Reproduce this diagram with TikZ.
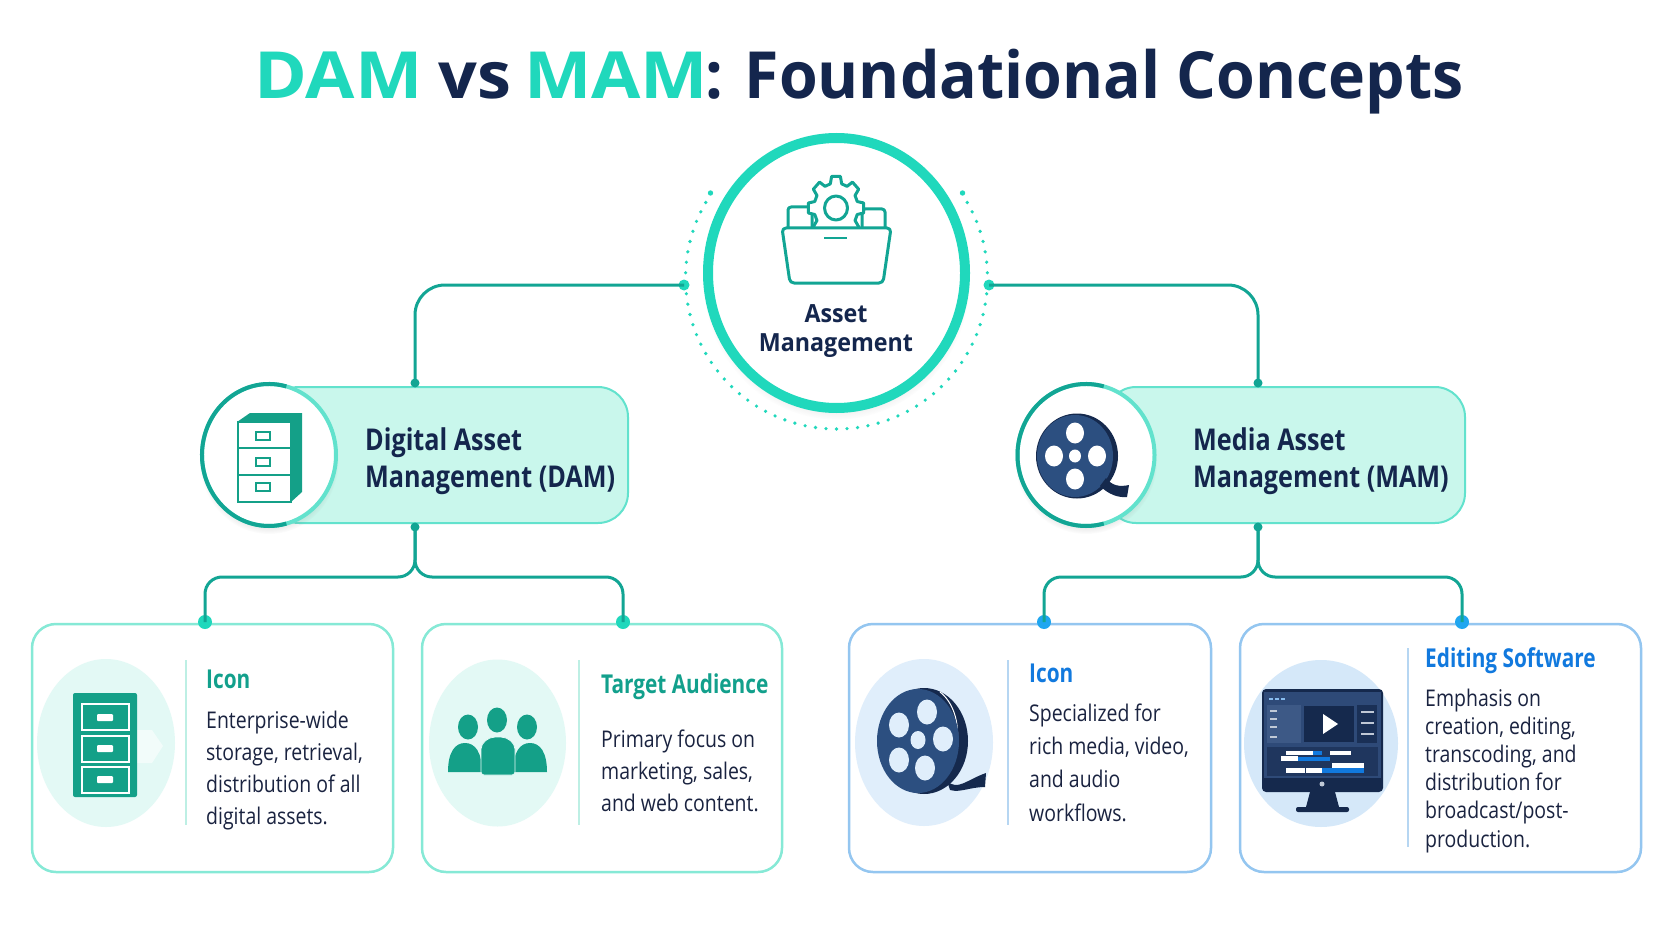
\documentclass[tikz,border=0pt]{standalone}
\usepackage{fontspec}
\setmainfont{Open Sans}
\newfontfamily\titlefont[FakeStretch=.963]{Open Sans}
\newfontfamily\titlewide[FakeStretch=1.1]{Open Sans}
\newfontfamily\titlemid[FakeStretch=1.05]{Open Sans}
\newfontfamily\assetfont[FakeStretch=.93]{Open Sans}
\newfontfamily\pillfont[FakeStretch=.84]{Open Sans}
\newfontfamily\headfont[FakeStretch=.8]{Open Sans}
\newfontfamily\bodyfont[FakeStretch=.846]{Open Sans}
\usetikzlibrary{positioning,shapes.geometric,shadows,calc}

\definecolor{mint}{HTML}{20D8BC}
\definecolor{tealline}{HTML}{12A594}
\definecolor{tealicon}{HTML}{14A088}
\definecolor{mintedge}{HTML}{62E2CD}
\definecolor{mintfill}{HTML}{C9F7EC}
\definecolor{cardmint}{HTML}{86E9D6}
\definecolor{palemint}{HTML}{E3F9F5}
\definecolor{rulemint}{HTML}{BDEFE4}
\definecolor{skydot}{HTML}{1FA6F0}
\definecolor{cardsky}{HTML}{94C6F0}
\definecolor{palesky}{HTML}{E0EEFB}
\definecolor{rulesky}{HTML}{B6D6F2}
\definecolor{headblue}{HTML}{1179DE}
\definecolor{headteal}{HTML}{12A08C}
\definecolor{navy}{HTML}{14264D}
\definecolor{ink}{HTML}{1A2340}
\definecolor{reelblue}{HTML}{2C4F80}
\definecolor{reeldark}{HTML}{15294D}
\definecolor{screenmid}{HTML}{2E4A78}
\definecolor{screenlite}{HTML}{3D5986}

\tikzset{
    linkline/.style={draw=tealline, line width=3pt},
    linkdot/.style={circle, fill=#1, inner sep=0pt, minimum size=14pt},
    smalldot/.style={circle, fill=tealline, inner sep=0pt, minimum size=9pt},
    pillbox/.style={rectangle, rounded corners=30pt, fill=mintfill, draw=mintedge, line width=2pt, minimum height=136pt},
    badge/.style={ellipse, fill=white, draw=mintedge, line width=4pt, inner sep=0pt,
        circular drop shadow={shadow xshift=0pt, shadow yshift=-5pt, shadow scale=1.04, opacity=.25}},
    pilltext/.style={font=\pillfont\bfseries\fontsize{30}{37}\selectfont, text=navy, align=left, inner sep=0pt, anchor=base west},
    titlepart/.style={font=\bfseries\fontsize{65}{70}\selectfont, text=#1, inner sep=0pt, anchor=base west},
    cardbox/.style={rectangle, rounded corners=24pt, fill=white, draw=#1, line width=2.5pt, minimum height=248pt},
    cardhead/.style={font=\headfont\bfseries\fontsize{26}{30}\selectfont, text=#1, inner sep=0pt, anchor=base west},
    cardbody/.style={font=\bodyfont\fontsize{23}{#1}\selectfont, text=ink, align=left, inner sep=0pt, anchor=base west},
    iconline/.style={draw=tealline, line width=3pt, line join=round},
}

\begin{document}
\begin{tikzpicture}[x=1pt, y=-1pt]
    \useasboundingbox (0,0) rectangle (1672,941);
    \fill[white] (0,0) rectangle (1672,941);

    \node[titlepart=mint] (titleA) at (254,99) {\titlewide DAM};
    \node[titlepart=navy] (titleB) at (438,99) {\titlemid vs};
    \node[titlepart=mint] (titleC) at (524,99) {\titlewide MAM};
    \node[titlepart=navy] (titleD) at (705,99) {\titlefont : Foundational Concepts};

    % centre circle with its dotted ring
    \coordinate (ring) at (836.5,278);
    \foreach \a in {150,154,...,390}
        \fill[mint] (ring) ++(\a:151pt) circle[radius=1.8pt];
    \fill[mint] (ring) ++(146:152pt) circle[radius=2.7pt];
    \fill[mint] (ring) ++(34:152pt) circle[radius=2.7pt];
    \node[ellipse, fill=white, draw=mint, line width=10pt, inner sep=0pt, minimum width=257pt, minimum height=270pt,
        circular drop shadow={shadow xshift=0pt, shadow yshift=-6pt, shadow scale=1.04, opacity=.25}] (asset) at (836.5,273) {};

    \draw[iconline, fill=white, rounded corners=3pt] (788,228) -- (788,207) -- (812,207) -- (812,228);
    \draw[iconline, fill=white, rounded corners=3pt] (862,228) -- (862,209) -- (885,209) -- (885,228);
    \draw[iconline, fill=white, shift={(836,208)}] (-15:22 and 25)
        \foreach \a in {0,45,...,315} { -- ({\a-15}:22 and 25) -- ({\a-9}:28 and 32) -- ({\a+9}:28 and 32) -- ({\a+15}:22 and 25) } -- cycle;
    \draw[iconline] (836,208) ellipse[x radius=11.5, y radius=12];
    \draw[iconline, fill=white, rounded corners=4pt] (782,228) -- (891,228) -- (883,283) -- (790,283) -- cycle;
    \draw[iconline, line width=2pt] (824,238) -- (847,238);
    \node[font=\assetfont\bfseries\fontsize{25}{29}\selectfont, text=navy, align=center, inner sep=0pt, anchor=base] (assetname) at (836,351) {Asset\\Management};

    % two main boxes
    \node[pillbox, minimum width=359pt] (dampill) at (448.5,455) {};
    \node[pillbox, minimum width=359pt] (mampill) at (1285.5,455) {};
    \node[badge, minimum width=134pt, minimum height=142pt] (dambadge) at (269,455) {};
    \node[badge, minimum width=137pt, minimum height=142pt] (mambadge) at (1086,455) {};
    \draw[draw=tealline, line width=4pt] (dambadge.center) ++(75:67pt and 71pt) arc[start angle=75, end angle=285, x radius=67pt, y radius=71pt];
    \draw[draw=tealline, line width=4pt] (mambadge.center) ++(75:68.5pt and 71pt) arc[start angle=75, end angle=285, x radius=68.5pt, y radius=71pt];
    \node[pilltext] (damname) at (365,487) {Digital Asset\\Management (DAM)};
    \node[pilltext] (mamname) at (1193,487) {Media Asset\\Management (MAM)};

    % links from the centre
    \node[linkdot=mint, minimum size=11pt] (assetleft) at (684,285) {};
    \node[linkdot=mint, minimum size=11pt] (assetright) at (989,285) {};
    \node[smalldot] (damtop) at (415,383) {};
    \node[smalldot] (mamtop) at (1258,383) {};
    \draw[linkline, rounded corners=30pt] (assetleft.center) -| (damtop.center);
    \draw[linkline, rounded corners=30pt] (assetright.center) -| (mamtop.center);

    % cards
    \node[cardbox=cardmint, minimum width=361pt] (cardA) at (212.5,748) {};
    \node[cardbox=cardmint, minimum width=360pt] (cardB) at (602,748) {};
    \node[cardbox=cardsky, minimum width=362pt] (cardC) at (1030,748) {};
    \node[cardbox=cardsky, minimum width=401pt] (cardD) at (1440.5,748) {};

    \node[ellipse, fill=palemint, inner sep=0pt, minimum width=138pt, minimum height=168pt] (blobA) at (106,743) {};
    \node[ellipse, fill=palemint, inner sep=0pt, minimum width=137pt, minimum height=167pt] (blobB) at (497.5,743) {};
    \node[ellipse, fill=palesky, inner sep=0pt, minimum width=138pt, minimum height=167pt] (blobC) at (924,742.5) {};
    \node[ellipse, fill=palesky!85!cardsky, inner sep=0pt, minimum width=154pt, minimum height=167pt] (blobD) at (1321,743.5) {};

    \draw[rulemint, line width=1.5pt] (186,660) -- (186,825);
    \draw[rulemint, line width=1.5pt] (579,660) -- (579,825);
    \draw[rulesky, line width=1.5pt] (1008,660) -- (1008,825);
    \draw[rulesky, line width=1.5pt] (1408,648) -- (1408,847);

    \node[cardhead=headteal] (headA) at (206,688) {Icon};
    \node[cardhead=headteal] (headB) at (601,693) {Target Audience};
    \node[cardhead=headblue] (headC) at (1029,682) {Icon};
    \node[cardhead=headblue] (headD) at (1425,667) {Editing Software};
    \node[cardbody=32] (bodyA) at (206,824) {Enterprise-wide\\storage, retrieval,\\distribution of all\\digital assets.};
    \node[cardbody=32] (bodyB) at (601,811) {Primary focus on\\marketing, sales,\\and web content.};
    \node[cardbody=33.3] (bodyC) at (1029,821) {Specialized for\\rich media, video,\\and audio\\workflows.};
    \node[cardbody=28.2] (bodyD) at (1425,847) {Emphasis on\\creation, editing,\\transcoding, and\\distribution for\\broadcast/post-\\production.};

    % links down to the cards
    \node[smalldot] (dambot) at (415,527) {};
    \node[smalldot] (mambot) at (1258,527) {};
    \node[linkdot=mint] (dotA) at (205,622) {};
    \node[linkdot=mint] (dotB) at (623,622) {};
    \node[linkdot=skydot] (dotC) at (1044,622) {};
    \node[linkdot=skydot] (dotD) at (1462,622) {};
    \coordinate (damfork) at (415,577);
    \coordinate (mamfork) at (1258,577);
    \draw[linkline, rounded corners=17pt] (dambot.center) -- (damfork) -| (dotA.center);
    \draw[linkline, rounded corners=17pt] (dambot.center) -- (damfork) -| (dotB.center);
    \draw[linkline, rounded corners=17pt] (mambot.center) -- (mamfork) -| (dotC.center);
    \draw[linkline, rounded corners=17pt] (mambot.center) -- (mamfork) -| (dotD.center);

    % cabinet in the DAM badge
    \fill[tealicon] (237,422) -- (250,413) -- (302,413) -- (302,492) -- (291,502) -- (291,422) -- cycle;
    \draw[tealicon, line width=2.5pt, fill=white] (238,422) rectangle (291,448);
    \draw[tealicon, line width=2.5pt, fill=white] (238,448) rectangle (291,475);
    \draw[tealicon, line width=2.5pt, fill=white] (238,475) rectangle (291,502);
    \foreach \y in {436,462,487}
        \draw[tealicon, line width=2pt] (256,\y-4) rectangle (270,\y+4);

    % reel in the MAM badge
    \fill[reeldark] (1077,456) ellipse[x radius=41, y radius=42.5];
    \fill[reelblue] (1075,456) ellipse[x radius=38, y radius=41];
    \fill[reeldark] (1106,478) .. controls (1112,486) and (1120,487) .. (1129,485) -- (1127,497) .. controls (1118,498) and (1108,494) .. (1100,486) -- cycle;
    \foreach \x/\y in {1075/433, 1075/479, 1054/456, 1097/456}
        \fill[white] (\x,\y) ellipse[x radius=9, y radius=10.5];
    \fill[white] (1075,456) ellipse[x radius=6, y radius=6.5];

    % cabinet in card A
    \fill[white, opacity=.55] (137,730) -- (152,730) -- (163,746) -- (152,763) -- (137,763) -- cycle;
    \fill[tealicon, rounded corners=2pt] (73,693) rectangle (137,797);
    \foreach \y/\h in {704/730, 736/762, 767/793}
        \draw[white, line width=1.2pt] (82,\y) rectangle (129,\h);
    \foreach \y in {714,745,776}
        \fill[white, rounded corners=1pt] (97,\y) rectangle (113,\y+7);

    % people in card B
    \fill[tealicon] (468,727) ellipse[x radius=10, y radius=12.5];
    \fill[tealicon] (527,727) ellipse[x radius=10, y radius=12.5];
    \fill[tealicon] (497,720) ellipse[x radius=10, y radius=12.5];
    \fill[tealicon] (448,772) .. controls (448,752) and (455,743) .. (465,743) .. controls (475,743) and (482,752) .. (482,772) -- cycle;
    \fill[tealicon] (513,772) .. controls (513,752) and (520,743) .. (530,743) .. controls (540,743) and (547,752) .. (547,772) -- cycle;
    \fill[tealicon, draw=palemint, line width=.8pt, rounded corners=3pt] (481,775) -- (481,752) .. controls (481,743) and (488,737) .. (498,737) .. controls (508,737) and (515,743) .. (515,752) -- (515,775) -- cycle;

    % reel in card C
    \fill[reeldark] (947,781) .. controls (958,791) and (966,780) .. (986,773) -- (985,787) .. controls (970,787) and (960,793) .. (950,790) -- cycle;
    \fill[reeldark] (924,741) ellipse[x radius=44, y radius=53];
    \draw[white, line width=1pt] (940,692) .. controls (966,712) and (966,772) .. (920,792);
    \fill[reelblue] (918,741) ellipse[x radius=41, y radius=52];
    \foreach \x/\y in {927/712, 899/725, 943/739, 899/760, 925/768}
        \fill[palesky] (\x,\y) ellipse[x radius=10, y radius=12.5];
    \fill[palesky] (918,740) ellipse[x radius=7.5, y radius=9];

    % monitor in card D
    \fill[reeldark] (1310,792) -- (1335,792) -- (1339,807) -- (1306,807) -- cycle;
    \fill[reeldark, rounded corners=2pt] (1296,807) rectangle (1349,812);
    \fill[reeldark, rounded corners=4pt] (1262,689) rectangle (1383,792);
    \fill[screenmid] (1264,692) rectangle (1381,778);
    \fill[screenlite] (1267,705) rectangle (1301,743);
    \fill[reeldark] (1304,706) rectangle (1354,742);
    \fill[reeldark!80!screenmid] (1357,705) rectangle (1377,743);
    \fill[white] (1323,714) -- (1338,724) -- (1323,734) -- cycle;
    \fill[reeldark!60!screenmid] (1267,747) rectangle (1378,776);
    \foreach \a/\b/\c/\d in {1286/1313/751/755, 1330/1351/751/755, 1281/1298/756/761, 1332/1364/763/768, 1286/1305/768/773, 1306/1322/768/773}
        \fill[white] (\a,\c) rectangle (\b,\d);
    \foreach \a/\b/\c/\d in {1313/1322/751/755, 1298/1330/757/761, 1322/1364/768/773}
        \fill[headblue] (\a,\c) rectangle (\b,\d);
    \foreach \y in {711,722,733}
        \fill[white!70!screenmid] (1361,\y) rectangle (1374,\y+2);
    \foreach \y in {710,718,726,736}
        \fill[white!70!screenmid] (1270,\y) rectangle (1277,\y+2);
    \foreach \x in {1269,1275,1281}
        \fill[headblue!50!white] (\x,698) rectangle (\x+4,700);
    \fill[white!70!screenmid] (1322,784) circle[radius=2.5];
\end{tikzpicture}
\end{document}
